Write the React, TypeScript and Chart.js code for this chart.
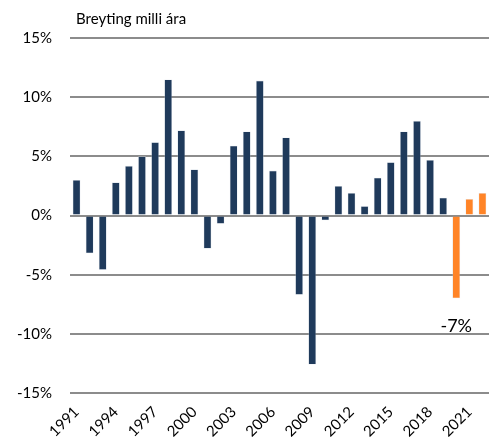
import React, { useEffect, useRef } from "react";
import { Chart, registerables } from "chart.js";

Chart.register(...registerables);

const years: string[] = [
  "1991", "1992", "1993", "1994", "1995", "1996", "1997", "1998", "1999", "2000",
  "2001", "2002", "2003", "2004", "2005", "2006", "2007", "2008", "2009", "2010",
  "2011", "2012", "2013", "2014", "2015", "2016", "2017", "2018", "2019", "2020",
  "2021", "2022",
];

const changes: number[] = [
  3.0, -3.2, -4.6, 2.8, 4.2, 5.0, 6.2, 11.5, 7.2, 3.9,
  -2.8, -0.7, 5.9, 7.1, 11.4, 3.8, 6.6, -6.7, -12.6, -0.4,
  2.5, 1.9, 0.8, 3.2, 4.5, 7.1, 8.0, 4.7, 1.5, -7.0,
  1.4, 1.9,
];

const forecastFrom = "2020";
const titleText = "Breyting milli ára";
const annotationYear = "2020";
const annotationText = "-7%";

const NAVY = "#1f3a5b";
const ORANGE = "#ff8427";
const FONT = "Lato, 'Open Sans', sans-serif";

export default function App() {
  const ref = useRef<HTMLCanvasElement>(null);

  useEffect(() => {
    if (!ref.current) return;
    const fIdx = years.indexOf(forecastFrom);
    const colors = years.map((_, i) => (i >= fIdx ? ORANGE : NAVY));

    const overlay = {
      id: "overlay",
      afterDraw(chart: any) {
        const ctx = chart.ctx;
        ctx.save();
        ctx.fillStyle = "#000";
        ctx.font = `15px ${FONT}`;
        ctx.textAlign = "left";
        ctx.textBaseline = "middle";
        ctx.fillText(titleText, 76, 19);
        const meta = chart.getDatasetMeta(0);
        const ai = years.indexOf(annotationYear);
        const el = meta.data[ai];
        if (el) {
          ctx.font = `18px ${FONT}`;
          ctx.textAlign = "center";
          ctx.fillText(annotationText, el.x, el.y + 28);
        }
        ctx.restore();
      },
    };

    const chart = new Chart(ref.current, {
      type: "bar",
      data: {
        labels: years,
        datasets: [
          {
            data: changes,
            backgroundColor: colors,
            borderColor: "rgba(200,210,222,0.6)",
            borderWidth: 0.6,
            categoryPercentage: 1,
            barPercentage: 0.6,
          },
        ],
      },
      options: {
        animation: false,
        responsive: false,
        maintainAspectRatio: false,
        layout: { padding: { top: 38, right: 1, left: 0, bottom: 0 } },
        plugins: {
          legend: { display: false },
          title: { display: false },
          tooltip: { enabled: false },
        },
        scales: {
          x: {
            grid: { display: false, drawTicks: false },
            border: { display: false },
            ticks: {
              autoSkip: false,
              maxRotation: 45,
              minRotation: 45,
              padding: 10,
              color: "#000",
              font: { family: FONT, size: 15 },
              callback: (_v: any, i: number) => (i % 3 === 0 ? years[i] : ""),
            },
            afterFit: (s: any) => {
              s.height = 50;
              s.paddingLeft = 0;
              s.paddingRight = 0;
            },
          },
          y: {
            min: -15,
            max: 15,
            grid: {
              color: "#8c8c8c",
              lineWidth: 2,
              drawTicks: false,
            },
            border: { display: false },
            ticks: {
              stepSize: 5,
              padding: 18,
              color: "#000",
              font: { family: FONT, size: 15 },
              callback: (v: any) => `${v}%`,
            },
            afterFit: (s: any) => {
              s.width = 70;
            },
          },
        },
      },
      plugins: [overlay],
    });
    return () => chart.destroy();
  }, []);

  return (
    <div style={{ position: "absolute", left: 0, top: 0, width: 490, height: 443 }}>
      <canvas ref={ref} width={490} height={443} style={{ width: 490, height: 443 }} />
    </div>
  );
}
